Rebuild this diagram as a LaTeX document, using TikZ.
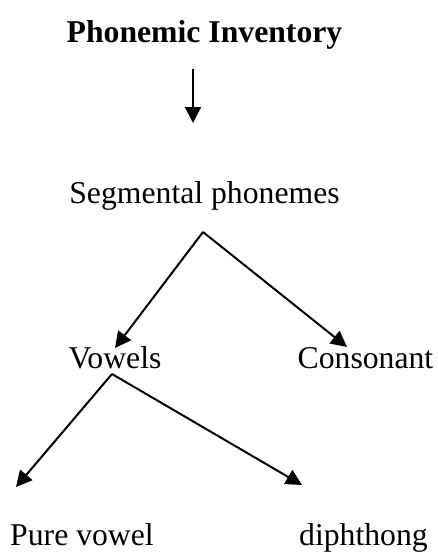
\documentclass[tikz,border=0pt]{standalone}
\usepackage{fontspec}
\setmainfont{Liberation Serif}
\usepackage{tikz}
\usetikzlibrary{arrows.meta, calc}
\tikzset{
  lbl/.style={inner sep=0pt, anchor=base, font=\fontsize{31.7pt}{38pt}\selectfont},
  arr/.style={-{Triangle[length=16pt, width=16pt]}, line width=2pt}
}

\begin{document}
\begin{tikzpicture}[x=1pt, y=-1pt]
        \useasboundingbox (0,0) rectangle (438,552);
        \node[lbl, font=\fontsize{31.7pt}{38pt}\selectfont\bfseries] (title) at (204.5,42) {Phonemic Inventory};
        \node[lbl] (seg) at (204.5,203) {Segmental phonemes};
        \node[lbl] (vow) at (115,368) {Vowels};
        \node[lbl] (cons) at (365.5,368) {Consonant};
        \node[lbl] (pure) at (82,545) {Pure vowel};
        \node[lbl] (diph) at (363.5,545) {diphthong};
        % fork points under the parents
        \coordinate (segfork) at ([xshift=-1.5pt, yshift=-29pt]seg.base);
        \coordinate (vowfork) at ([xshift=-3pt, yshift=-6pt]vow.base);
        \draw[arr] ([xshift=-11.5pt, yshift=-27pt]title.base) -- ([xshift=-11.5pt, yshift=-81pt]title.base);
        \draw[arr] (segfork) -- ([yshift=20pt]vow.base);
        \draw[arr] (segfork) -- ([xshift=-18.5pt, yshift=21pt]cons.base);
        \draw[arr] (vowfork) -- ([xshift=-66pt, yshift=58pt]pure.base);
        \draw[arr] (vowfork) -- ([xshift=-61.5pt, yshift=60pt]diph.base);
      \end{tikzpicture}
\end{document}
